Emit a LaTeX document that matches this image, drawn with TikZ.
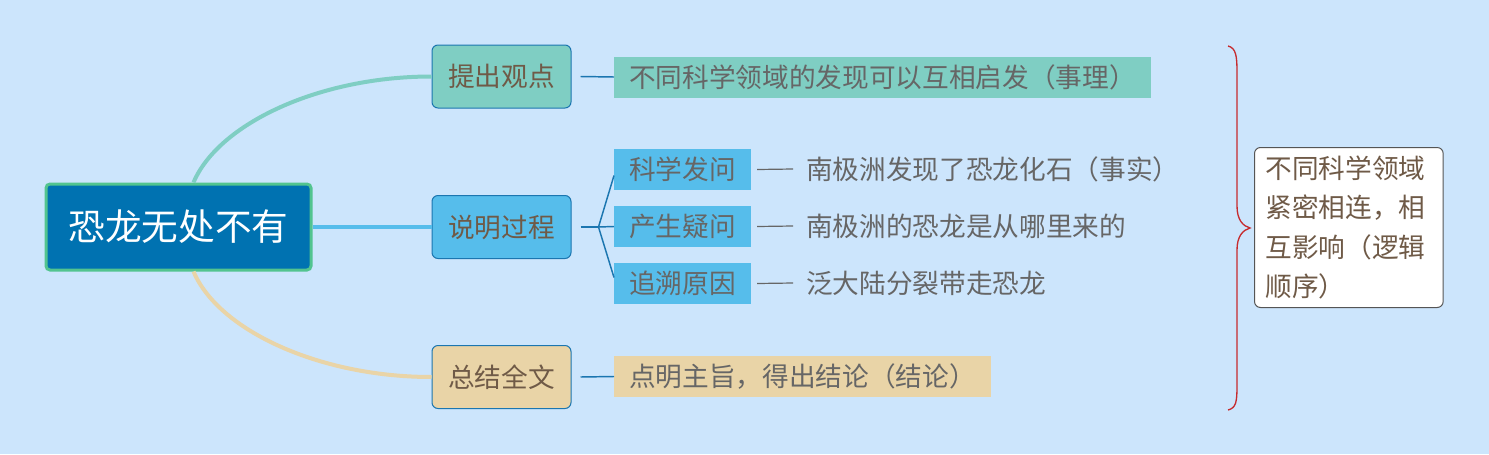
\documentclass[tikz,border=0pt]{standalone}
\usepackage{fontspec}
\setmainfont{Noto Sans CJK SC}
\usetikzlibrary{calc}
\definecolor{bgcol}{HTML}{CCE5FC}
\definecolor{rootfill}{HTML}{0072B1}
\definecolor{rootline}{HTML}{52C48F}
\definecolor{tealc}{HTML}{7FCEC3}
\definecolor{skyc}{HTML}{56BDEB}
\definecolor{tanc}{HTML}{E9D4A7}
\definecolor{bluel}{HTML}{1B76B0}
\definecolor{browntext}{HTML}{6F5A47}
\definecolor{greytext}{HTML}{666666}
\definecolor{bracec}{HTML}{C62B2E}
\definecolor{boxline}{HTML}{555555}
\begin{document}
\begin{tikzpicture}[x=0.75pt,y=-0.75pt,
  txt/.style={font=\fontsize{20}{24}\selectfont},
  rootbox/.style={fill=rootfill, draw=rootline, line width=2.25pt, rounded corners=3pt,
    minimum width=198.75pt, minimum height=64.5pt, inner sep=0pt, text=white,
    font=\fontsize{27.5}{30}\selectfont},
  branchbox/.style={txt, draw=bluel, line width=0.75pt, rounded corners=4.5pt,
    minimum width=104.25pt, minimum height=47.25pt, inner sep=0pt, text=browntext},
  subbox/.style={txt, anchor=west, minimum height=30.75pt, inner xsep=11.25pt, inner ysep=0pt, text=greytext},
  leaftext/.style={txt, anchor=west, inner sep=0pt, text=greytext},
  curveline/.style={line width=3pt},
  thinline/.style={draw=bluel, line width=1.1pt},
  dashline/.style={draw=greytext, line width=0.9pt},
]
\fill[bgcol] (0,0) rectangle (1489,454);
\useasboundingbox (0,0) rectangle (1489,454);

% root
\node[rootbox] (root) at (178.5,227) {恐龙无处不有};

% branches
\node[branchbox, fill=tealc] (b1) at (501.5,76.5) {提出观点};
\node[branchbox, fill=skyc] (b2) at (501.5,227) {说明过程};
\node[branchbox, fill=tanc] (b3) at (501.5,377) {总结全文};

% curves from root
\coordinate (rtop) at ($(root.north west)+(149,0)$);
\coordinate (rbot) at ($(root.south west)+(149,0)$);
\draw[curveline, draw=tealc] (rtop) .. controls ($(rtop)+(25,-59)$) and ($(b1.west)+(-112,0)$) .. (b1.west);
\draw[curveline, draw=tanc] (rbot) .. controls ($(rbot)+(25,59)$) and ($(b3.west)+(-112,0)$) .. (b3.west);
\draw[curveline, draw=skyc] (root.east) -- (b2.west);

% sub items
\node[subbox, fill=tealc] (s1) at (614,77) {不同科学领域的发现可以互相启发（事理）};
\node[subbox, fill=skyc] (k1) at (614,169.5) {科学发问};
\node[subbox, fill=skyc] (k2) at (614,226.5) {产生疑问};
\node[subbox, fill=skyc] (k3) at (614,283.5) {追溯原因};
\node[subbox, fill=tanc] (s3) at (614,376.5) {点明主旨，得出结论（结论）};

% leaf texts
\node[leaftext] (l1) at (806,169) {南极洲发现了恐龙化石（事实）};
\node[leaftext] (l2) at (806,226) {南极洲的恐龙是从哪里来的};
\node[leaftext] (l3) at (806,283) {泛大陆分裂带走恐龙};

% thin connectors
\draw[thinline] ($(b1.east)+(9,0)$) -- (s1.west);
\draw[thinline] ($(b3.east)+(9,0)$) -- (s3.west);
\coordinate (junc) at ($(b2.east)+(27,0)$);
\draw[thinline] ($(b2.east)+(9,0)$) -- (junc);
\draw[thinline] (junc) -- ($(k1.west)+(0,6)$);
\draw[thinline] (junc) -- (k2.west);
\draw[thinline] (junc) -- ($(k3.west)+(0,-6)$);

% dashes
\draw[dashline] ($(k1.east)+(6,0)$) -- ($(l1.west)+(-13,0)$);
\draw[dashline] ($(k2.east)+(6,0)$) -- ($(l2.west)+(-13,0)$);
\draw[dashline] ($(k3.east)+(6,0)$) -- ($(l3.west)+(-13,0)$);

% right box
\node[txt, anchor=north west, fill=white, draw=boxline, line width=0.75pt, rounded corners=4.5pt,
  text width=125pt, inner xsep=8.25pt, inner ysep=0pt, minimum height=120pt, align=left,
  text=browntext, font=\fontsize{20}{29.6}\selectfont] (rb) at (1254,147)
  {不同科学领域\\紧密相连，相\\互影响（逻辑\\顺序）};

% brace
\draw[draw=bracec, line width=1pt]
  (1228,46) .. controls (1236,48) and (1237,56) .. (1237,72)
  -- (1237,206) .. controls (1237,220) and (1243,226) .. (1250,228)
  .. controls (1243,230) and (1237,236) .. (1237,250)
  -- (1237,386) .. controls (1237,402) and (1236,408) .. (1228,410);
\end{tikzpicture}
\end{document}
